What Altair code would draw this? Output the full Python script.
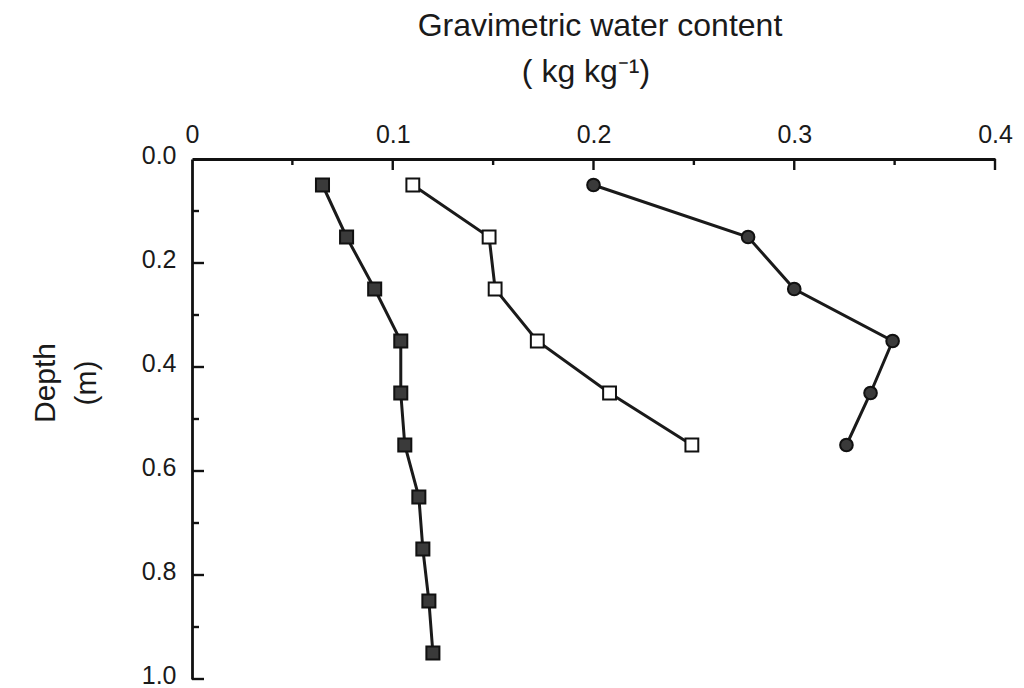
import altair as alt
import pandas as pd

# ---- data ----
depth_a = [0.05, 0.15, 0.25, 0.35, 0.45, 0.55, 0.65, 0.75, 0.85, 0.95]
water_a = [0.065, 0.077, 0.091, 0.104, 0.104, 0.106, 0.113, 0.115, 0.118, 0.120]  # filled squares

depth_b = [0.05, 0.15, 0.25, 0.35, 0.45, 0.55]
water_b = [0.110, 0.148, 0.151, 0.172, 0.208, 0.249]  # open squares

depth_c = [0.05, 0.15, 0.25, 0.35, 0.45, 0.55]
water_c = [0.200, 0.277, 0.300, 0.349, 0.338, 0.326]  # filled circles

x_label_values = [0, 0.1, 0.2, 0.3, 0.4]
x_major_ticks = [0.1, 0.2, 0.3, 0.4]
x_minor_ticks = [0.05, 0.15, 0.25, 0.35]
y_label_values = [0.0, 0.2, 0.4, 0.6, 0.8, 1.0]
y_major_ticks = [0.2, 0.4, 0.6, 0.8, 1.0]
y_minor_ticks = [0.1, 0.3, 0.5, 0.7, 0.9]

series_names = ["A", "B", "C"]

rows = []
for name, ds, ws in zip(series_names, [depth_a, depth_b, depth_c], [water_a, water_b, water_c]):
    for d, w in zip(ds, ws):
        rows.append({"series": name, "depth": d, "water": w})
df = pd.DataFrame(rows)

FONT = "Liberation Sans"
TXT = "#1a1a1a"

xscale = alt.Scale(domain=[0, 0.4], nice=False, zero=True)
yscale = alt.Scale(domain=[0, 1], nice=False, reverse=True)

x_axis = alt.Axis(
    orient="top",
    values=x_label_values,
    format=".1~f",
    ticks=False,
    grid=False,
    labelFlush=False,
    labelFont=FONT,
    labelFontSize=25,
    labelColor=TXT,
    labelPadding=12,
    domainColor="#111111",
    domainWidth=2.8,
    title=None,
)
y_axis = alt.Axis(
    orient="left",
    values=y_label_values,
    format=".1f",
    ticks=False,
    grid=False,
    labelFlush=False,
    labelFont=FONT,
    labelFontSize=25,
    labelColor=TXT,
    labelPadding=16,
    labelOffset=-4,
    domainColor="#111111",
    domainWidth=2.8,
    title=None,
)

lines = alt.Chart(df).mark_line(color="#1a1a1a", strokeWidth=3).encode(
    x=alt.X("water:Q", scale=xscale, axis=x_axis),
    y=alt.Y("depth:Q", scale=yscale, axis=y_axis),
    detail="series:N",
    order="depth:Q",
)

points = alt.Chart(df).mark_point(filled=False, opacity=1).encode(
    x=alt.X("water:Q", scale=xscale, axis=x_axis),
    y=alt.Y("depth:Q", scale=yscale, axis=y_axis),
    shape=alt.Shape("series:N", scale=alt.Scale(domain=series_names, range=["square", "square", "circle"]), legend=None),
    fill=alt.Fill("series:N", scale=alt.Scale(domain=series_names, range=["#3a3a3a", "#ffffff", "#3a3a3a"]), legend=None),
    stroke=alt.value("#111111"),
    strokeWidth=alt.value(2),
    size=alt.Size("series:N", scale=alt.Scale(domain=series_names, range=[170, 160, 170]), legend=None),
)

# inward-pointing ticks
xmaj = alt.Chart(pd.DataFrame({"v": x_major_ticks})).mark_rule(color="#111", strokeWidth=2.4).encode(
    x=alt.X("v:Q", scale=xscale, axis=x_axis), y=alt.value(0), y2=alt.value(11)
)
xmin = alt.Chart(pd.DataFrame({"v": x_minor_ticks})).mark_rule(color="#111", strokeWidth=2.4).encode(
    x=alt.X("v:Q", scale=xscale, axis=x_axis), y=alt.value(0), y2=alt.value(6)
)
ymaj = alt.Chart(pd.DataFrame({"v": y_major_ticks})).mark_rule(color="#111", strokeWidth=2.4).encode(
    y=alt.Y("v:Q", scale=yscale, axis=y_axis), x=alt.value(0), x2=alt.value(12)
)
ymin = alt.Chart(pd.DataFrame({"v": y_minor_ticks})).mark_rule(color="#111", strokeWidth=2.4).encode(
    y=alt.Y("v:Q", scale=yscale, axis=y_axis), x=alt.value(0), x2=alt.value(7)
)

# axis titles as text annotations
title1 = alt.Chart(pd.DataFrame({"t": ["Gravimetric water content"]})).mark_text(
    font=FONT, fontSize=32, color=TXT, align="center", baseline="alphabetic"
).encode(text="t:N", x=alt.value(408), y=alt.value(-123))
title2 = alt.Chart(pd.DataFrame({"t": ["( kg kg\u207b\u00b9)"]})).mark_text(
    font=FONT, fontSize=32, color=TXT, align="center", baseline="alphabetic"
).encode(text="t:N", x=alt.value(394), y=alt.value(-77))
ytitle1 = alt.Chart(pd.DataFrame({"t": ["Depth"]})).mark_text(
    font=FONT, fontSize=30, color=TXT, align="center", baseline="middle", angle=270
).encode(text="t:N", x=alt.value(-146), y=alt.value(224))
ytitle2 = alt.Chart(pd.DataFrame({"t": ["(m)"]})).mark_text(
    font=FONT, fontSize=30, color=TXT, align="center", baseline="middle", angle=270
).encode(text="t:N", x=alt.value(-105), y=alt.value(224))

chart = alt.layer(
    lines, points, xmaj, xmin, ymaj, ymin, title1, title2, ytitle1, ytitle2
).properties(
    width=803,
    height=520,
    autosize=alt.AutoSizeParams(type="none"),
    padding={"left": 192, "top": 159, "right": 29, "bottom": 9},
    background="white",
).configure_view(
    stroke=None
).configure_axis(
    labelFont=FONT,
    labelFontSize=25,
    labelColor=TXT,
    labelFlush=False,
    domainColor="#111111",
    domainWidth=2.8,
)

chart.save("out.html", embed_options={"renderer": "svg", "actions": False})
